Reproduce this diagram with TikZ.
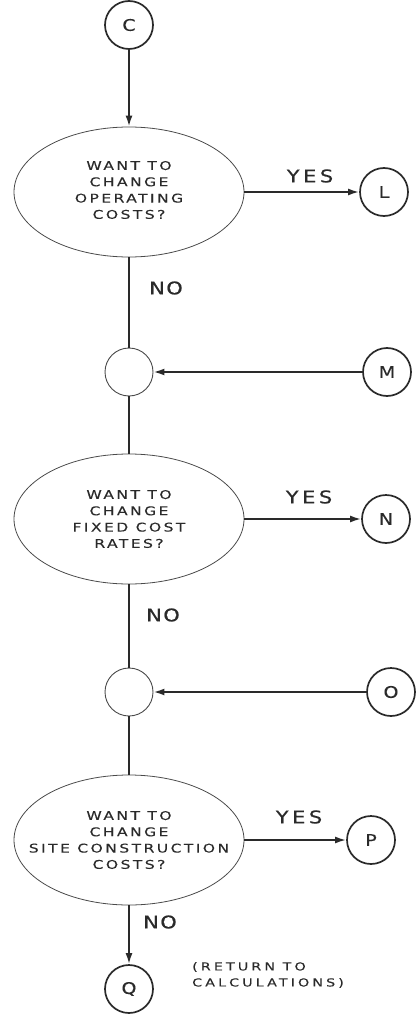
\documentclass[tikz,border=0pt]{standalone}
\usepackage{fontspec}
\setmainfont{DejaVu Sans}
\newfontfamily\qfont[LetterSpace=20,FakeStretch=1.3,FakeBold=0.2]{DejaVu Sans}
\newfontfamily\rfont[LetterSpace=28,FakeStretch=1.3,FakeBold=0.2]{DejaVu Sans}
\newfontfamily\yfont[LetterSpace=20,FakeStretch=1.2,FakeBold=0.3]{DejaVu Sans}
\newfontfamily\nfont[LetterSpace=8,FakeStretch=1.2,FakeBold=0.3]{DejaVu Sans}
\newfontfamily\cfont[FakeStretch=1.2,FakeBold=0.2]{DejaVu Sans}
\usetikzlibrary{shapes.geometric,arrows.meta}
\definecolor{ink}{HTML}{2A2A2A}
\begin{document}
\begin{tikzpicture}[x=1pt,y=-1pt,
  flow/.style={line width=1.9pt, draw=ink},
  arr/.style={flow, -{Latex[length=11pt,width=7pt]}},
  dec/.style={draw=ink!85, line width=0.8pt, ellipse, minimum width=230pt, minimum height=130pt, inner sep=0pt},
  dtext/.style={font=\fontsize{12}{16.3}\selectfont\qfont, align=center, text=ink, inner sep=0pt},
  conn/.style={draw=ink, line width=1.7pt, circle, minimum size=48pt, inner sep=0pt, font=\fontsize{16}{16}\selectfont\cfont, text=ink},
  junc/.style={draw=ink!85, line width=0.9pt, circle, minimum size=48pt, inner sep=0pt},
  lab/.style={font=\fontsize{17.5}{20}\selectfont\yfont, text=ink, inner sep=0pt},
  nolab/.style={font=\fontsize{17.5}{20}\selectfont\nfont, text=ink, inner sep=0pt},
  note/.style={font=\fontsize{11}{16}\selectfont\rfont, text=ink, align=left, inner sep=0pt}
]
\useasboundingbox (0,0) rectangle (417,1024);
% spine
\node[conn] (C) at (129,25) {C};
\node[dec] (D1) at (129,192) {};
\node[dtext] (T1) at ([yshift=2pt]D1.center) {WANT TO\\CHANGE\\OPERATING\\COSTS?};
\node[conn] (L) at (384,192) {L};
\node[lab] (Y1) at (310,176) {YES};
\node[nolab] (N1) at (166,288) {NO};
\node[junc] (J1) at (129,372) {};
\node[conn] (M) at (387,372) {M};
\node[dec] (D2) at (129,519) {};
\node[dtext] (T2) at (D2.center) {WANT TO\\CHANGE\\FIXED COST\\RATES?};
\node[conn] (N) at (386,519) {N};
\node[lab] (Y2) at (309,497) {YES};
\node[nolab] (N2) at (163,615) {NO};
\node[junc] (J2) at (129,692) {};
\node[conn] (O) at (391,692) {O};
\node[dec] (D3) at (129,840) {};
\node[dtext] (T3) at (D3.center) {WANT TO\\CHANGE\\SITE CONSTRUCTION\\COSTS?};
\node[conn] (P) at (371,840) {P};
\node[lab] (Y3) at (299,817) {YES};
\node[nolab] (N3) at (160,922) {NO};
\node[conn] (Q) at (129,989) {Q};
\node[note, anchor=west] (R) at (192,975) {(RETURN TO\\CALCULATIONS)};
% connectors
\draw[arr] (C) -- (D1);
\draw[arr] (D1) -- (L);
\draw[flow] (D1) -- (J1);
\draw[arr] (M) -- (J1);
\draw[flow] (J1) -- (D2);
\draw[arr] (D2) -- (N);
\draw[flow] (D2) -- (J2);
\draw[arr] (O) -- (J2);
\draw[flow] (J2) -- (D3);
\draw[arr] (D3) -- (P);
\draw[arr] (D3) -- (Q);
\end{tikzpicture}
\end{document}
